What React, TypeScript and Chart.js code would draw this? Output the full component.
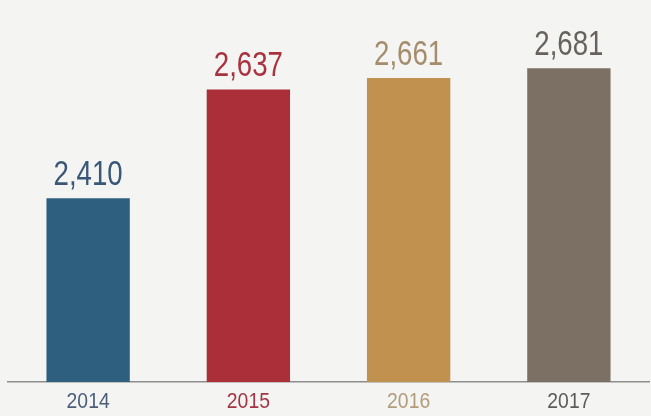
import React, { useEffect, useRef } from "react";
import { Chart, registerables } from "chart.js";

Chart.register(...registerables);

const years = ["2014", "2015", "2016", "2017"];
const values = [2410, 2637, 2661, 2681];
const valueLabels = ["2,410", "2,637", "2,661", "2,681"];
const barColors = ["#2e5f7f", "#ab2f38", "#c0914f", "#7c7064"];
const valueColors = ["#3a5777", "#a8323e", "#a48c6c", "#67625d"];
const tickColors = ["#4d5e7a", "#a43444", "#b29c7c", "#5e5c5a"];
const yMin = 2027;
const yMax = 2715;

const FONT = "'Liberation Sans', Arial, sans-serif";

function drawCondensed(ctx: any, text: string, x: number, y: number, sx: number) {
  ctx.save();
  ctx.translate(x, y);
  ctx.scale(sx, 1);
  ctx.fillText(text, 0, 0);
  ctx.restore();
}

const labelPlugin = {
  id: "labels",
  afterDatasetsDraw(chart: any) {
    const ctx = chart.ctx;
    const meta = chart.getDatasetMeta(0);
    const bottom = chart.chartArea.bottom;
    ctx.save();
    ctx.textAlign = "center";
    ctx.textBaseline = "alphabetic";
    meta.data.forEach((bar: any, i: number) => {
      ctx.font = `35px ${FONT}`;
      ctx.fillStyle = valueColors[i];
      drawCondensed(ctx, valueLabels[i], bar.x, bar.y - 13, 0.79);
      ctx.font = `22px ${FONT}`;
      ctx.fillStyle = tickColors[i];
      drawCondensed(ctx, years[i], bar.x, bottom + 26, 0.88);
    });
    ctx.restore();
  },
};

const bgPlugin = {
  id: "bg",
  beforeDraw(chart: any) {
    const ctx = chart.ctx;
    ctx.save();
    ctx.fillStyle = "#f4f4f2";
    ctx.fillRect(0, 0, chart.width, chart.height);
    ctx.restore();
  },
};

export default function App() {
  const ref = useRef<HTMLCanvasElement>(null);
  useEffect(() => {
    if (!ref.current) return;
    const chart = new Chart(ref.current, {
      type: "bar",
      data: {
        labels: years,
        datasets: [
          {
            data: values,
            backgroundColor: barColors,
            barPercentage: 0.52,
            categoryPercentage: 1,
            borderWidth: 0,
          },
        ],
      },
      options: {
        animation: false,
        responsive: false,
        maintainAspectRatio: false,
        layout: { padding: { top: 52, left: 8, right: 2, bottom: 34 } },
        plugins: { legend: { display: false }, tooltip: { enabled: false } },
        scales: {
          x: {
            grid: { display: false, drawTicks: false },
            border: { display: true, color: "#8d8d8d", width: 1.5 },
            ticks: { display: false },
          },
          y: {
            display: false,
            min: yMin,
            max: yMax,
          },
        },
      },
      plugins: [bgPlugin, labelPlugin],
    });
    return () => chart.destroy();
  }, []);
  return (
    <div style={{ position: "fixed", left: 0, top: 0, width: 651, height: 416, background: "#f4f4f2" }}>
      <canvas ref={ref} width={651} height={416} style={{ display: "block" }} />
    </div>
  );
}
